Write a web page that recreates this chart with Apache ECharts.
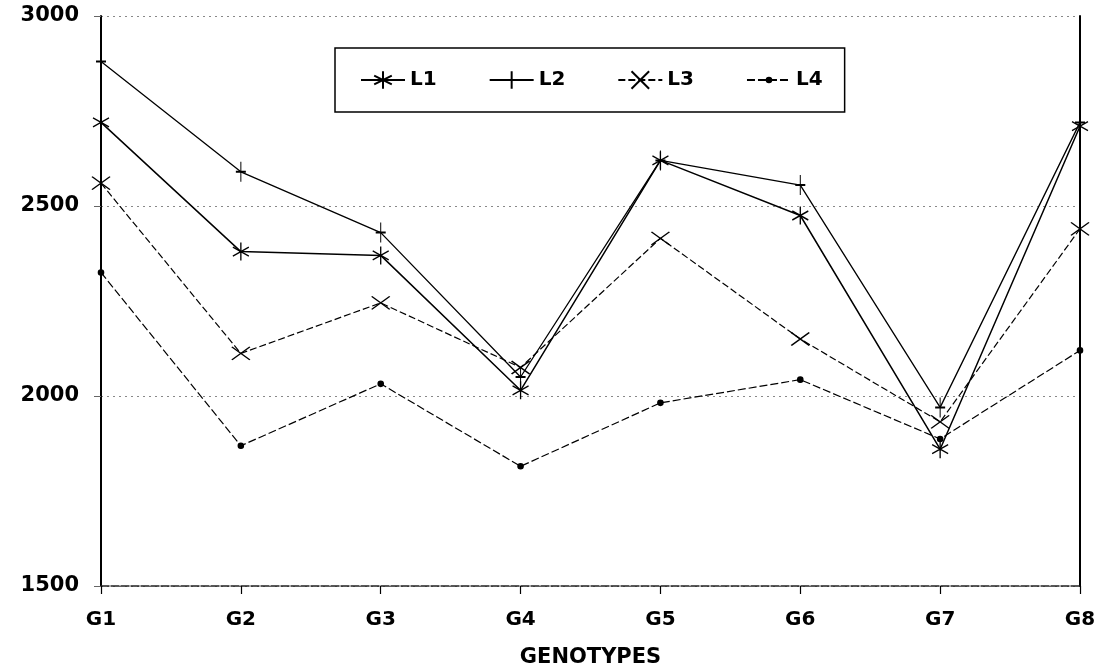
<!DOCTYPE html>
<html>
<head>
<meta charset="utf-8">
<script src="https://cdn.jsdelivr.net/npm/echarts@6/dist/echarts.min.js"></script>
<style>
html,body{margin:0;padding:0;background:#fff;}
#c{width:1103px;height:672px;}
</style>
</head>
<body>
<div id="c"></div>
<script>
const categories = ['G1','G2','G3','G4','G5','G6','G7','G8'];
const L1 = [2720, 2380, 2370, 2015, 2620, 2475, 1860, 2710];
const L2 = [2880, 2590, 2430, 2050, 2620, 2555, 1970, 2720];
const L3 = [2560, 2112, 2245, 2075, 2415, 2150, 1932, 2440];
const L4 = [2325, 1869, 2032, 1815, 1982, 2043, 1887, 2120];
const yTicks = [1500, 2000, 2500, 3000];
const axisTitle = 'GENOTYPES';

const FONT = '"DejaVu Sans", "Liberation Sans", sans-serif';
const asterisk = 'path://M0,-10L0,10M-8.7,-5L8.7,5M-8.7,5L8.7,-5';
const plusBar = 'path://M0,-10L0,10M-5,0L5,0';
const cross = 'path://M-10,-7L10,7M-10,7L10,-7';
const dot = 'path://M-10,-10M10,10M-2.6,0A2.6,2.6,0,1,1,2.6,0A2.6,2.6,0,1,1,-2.6,0Z';

function mk(name, data, symbol, size, lineType, width) {
  return {
    name: name, type: 'line', data: data,
    symbol: symbol, symbolSize: size, showSymbol: true,
    lineStyle: {color: '#000', width: width, type: lineType},
    itemStyle: {color: '#000', borderColor: '#000', borderWidth: 1.4},
    emphasis: {disabled: true},
    animation: false
  };
}

const chart = echarts.init(document.getElementById('c'), null, {renderer: 'canvas'});
chart.setOption({
  backgroundColor: '#fff',
  animation: false,
  grid: {left: 101, right: 23, top: 16, bottom: 86, containLabel: false, outerBoundsMode: 'none'},
  legend: {
    left: 335, top: 48,
    padding: [22, 22, 22, 25],
    borderColor: '#000', borderWidth: 1.5,
    itemWidth: 44, itemHeight: 22, itemGap: 52,
    textStyle: {fontFamily: FONT, fontWeight: 'bold', fontSize: 20, color: '#000'},
    data: ['L1','L2','L3','L4']
  },
  xAxis: {
    type: 'category', data: categories, boundaryGap: false,
    name: axisTitle, nameLocation: 'middle', nameGap: 61,
    nameTextStyle: {fontFamily: FONT, fontWeight: 'bold', fontSize: 21, color: '#000'},
    axisLine: {show: true, lineStyle: {color: '#222', width: 1.5, type: [8, 2]}},
    axisTick: {show: true, length: 8, lineStyle: {color: '#000', width: 1.2}},
    axisLabel: {fontFamily: FONT, fontWeight: 'bold', fontSize: 20, color: '#000', margin: 24}
  },
  yAxis: [{
    type: 'value', min: yTicks[0], max: yTicks[yTicks.length - 1], interval: 500,
    axisLine: {show: true, onZero: false, lineStyle: {color: '#000', width: 2}},
    axisTick: {show: true, length: 7, lineStyle: {color: '#666', width: 1}},
    axisLabel: {fontFamily: FONT, fontWeight: 'bold', fontSize: 21, color: '#000', margin: 22,
      formatter: function (v) { return String(v); }},
    splitLine: {show: true, lineStyle: {color: '#888', width: 1, type: [2, 4]}}
  }, {
    type: 'value', min: yTicks[0], max: yTicks[yTicks.length - 1], interval: 500,
    position: 'right',
    axisLine: {show: true, onZero: false, lineStyle: {color: '#000', width: 2}},
    axisTick: {show: false}, axisLabel: {show: false}, splitLine: {show: false}
  }],
  series: [
    mk('L1', L1, asterisk, [16, 18], 'solid', 1.5),
    mk('L2', L2, plusBar, [10, 20], 'solid', 1.3),
    mk('L3', L3, cross, [18, 13], [7, 3], 1.2),
    mk('L4', L4, dot, 20, [8, 3], 1.2)
  ]
});
</script>
</body>
</html>
